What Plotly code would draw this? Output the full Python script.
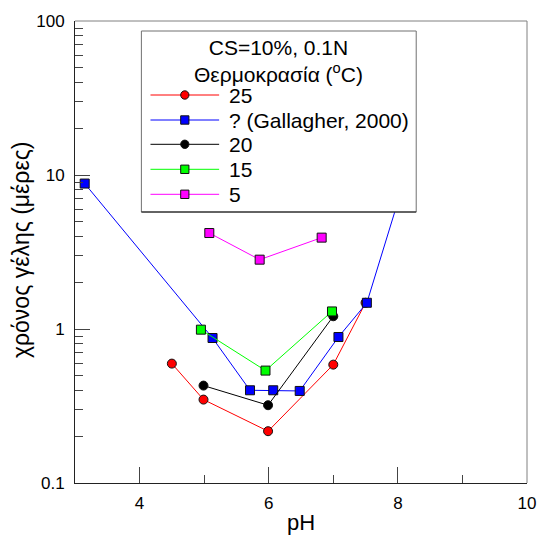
import plotly.graph_objects as go

# ---------------- data ----------------
ph_25 = [4.50, 4.99, 5.99, 7.00, 7.50]
t_25 = [0.596, 0.348, 0.217, 0.587, 1.48]

ph_gal = [3.15, 5.13, 5.71, 6.07, 6.48, 7.08, 7.52, 8.00]
t_gal = [8.8, 0.874, 0.40, 0.40, 0.396, 0.887, 1.48, 6.7]

ph_20 = [4.99, 5.99, 7.00]
t_20 = [0.429, 0.320, 1.21]

ph_15 = [4.95, 5.95, 6.98]
t_15 = [0.99, 0.537, 1.30]

ph_5 = [5.08, 5.86, 6.82]
t_5 = [4.2, 2.82, 3.92]

series_names = ["25", "? (Gallagher, 2000)", "20", "15", "5"]
series_colors = ["#FF0000", "#0000FF", "#000000", "#00FF00", "#FF00FF"]
series_symbols = ["circle", "square", "circle", "square", "square"]

x_ticks = [4, 6, 8, 10]
x_minor = [5, 7, 9]
y_ticks = [0.1, 1, 10, 100]
y_ticktext = ["0.1", "1", "10", "100"]
y_minor = [m * d for d in (0.1, 1, 10) for m in range(2, 10)]

legend_title = "CS=10%, 0.1N<br>Θερμοκρασία (<sup>o</sup>C)"
x_title = "pH"
y_title = "χρόνος γέλης (μέρες)"

FONT = "Liberation Sans, Arial, sans-serif"

# ---------------- figure ----------------
fig = go.Figure()
xs = [ph_25, ph_gal, ph_20, ph_15, ph_5]
ys = [t_25, t_gal, t_20, t_15, t_5]
for x, y, name, c, s in zip(xs, ys, series_names, series_colors, series_symbols):
    fig.add_trace(go.Scatter(
        x=x, y=y, mode="lines+markers", name=name,
        line=dict(color=c, width=1),
        marker=dict(symbol=s, size=9, color=c, line=dict(color="#111", width=1)),
        showlegend=False, cliponaxis=False,
    ))

L, R, T, B = 75, 11, 21, 52
W, H = 547, 535
PW, PH = W - L - R, H - T - B


def px(x):
    return (x - L) / PW


def py(y):
    return (H - B - y) / PH


shapes = []
# top/right frame
shapes.append(dict(type="line", xref="paper", yref="paper", x0=0, x1=1, y0=1, y1=1,
                   line=dict(color="#808080", width=1), layer="above"))
shapes.append(dict(type="line", xref="paper", yref="paper", x0=1, x1=1, y0=0, y1=1,
                   line=dict(color="#808080", width=1), layer="above"))

# legend box
lx0, lx1, ly0, ly1 = 142.7, 423, 31, 212
shapes.append(dict(type="rect", xref="paper", yref="paper",
                   x0=px(lx0), x1=px(lx1), y0=py(ly1), y1=py(ly0),
                   fillcolor="white", line=dict(color="#707070", width=1), layer="above"))
shapes.append(dict(type="line", xref="paper", yref="paper",
                   x0=px(lx0), x1=px(lx1), y0=py(ly1), y1=py(ly1),
                   line=dict(color="#111", width=1), layer="above"))

annotations = []
annotations.append(dict(xref="paper", yref="paper", x=px(283), y=py(61), text=legend_title,
                        showarrow=False, xanchor="center", yanchor="middle",
                        font=dict(family=FONT, size=21, color="black")))
entry_y = [95, 120, 144.3, 169.3, 194.3]
for yy, name, c, s in zip(entry_y, series_names, series_colors, series_symbols):
    shapes.append(dict(type="line", xref="paper", yref="paper",
                       x0=px(152), x1=px(222), y0=py(yy), y1=py(yy),
                       line=dict(color=c, width=1), layer="above"))
    r = 4.2
    shapes.append(dict(type="circle" if s == "circle" else "rect", xref="paper", yref="paper",
                       x0=px(187 - r), x1=px(187 + r), y0=py(yy + r), y1=py(yy - r),
                       fillcolor=c, line=dict(color="#111", width=1), layer="above"))
    annotations.append(dict(xref="paper", yref="paper", x=px(230), y=py(yy), text=name,
                            showarrow=False, xanchor="left", yanchor="middle",
                            font=dict(family=FONT, size=21, color="black")))

annotations.append(dict(xref="paper", yref="paper", x=px(305), y=py(522), text=x_title,
                        showarrow=False, xanchor="center", yanchor="middle",
                        font=dict(family=FONT, size=22, color="black")))
annotations.append(dict(xref="paper", yref="paper", x=px(20), y=py(250), text=y_title,
                        textangle=-90, showarrow=False, xanchor="center", yanchor="middle",
                        font=dict(family=FONT, size=23, color="black")))

fig.update_layout(
    width=W, height=H,
    margin=dict(l=L, r=R, t=T, b=B, pad=0),
    paper_bgcolor="white", plot_bgcolor="white",
    font=dict(family=FONT, size=17, color="black"),
    shapes=shapes, annotations=annotations,
    showlegend=False,
)
fig.update_xaxes(
    range=[3, 10], tickmode="array", tickvals=x_ticks, ticktext=[str(v) for v in x_ticks],
    ticks="inside", ticklen=16, tickwidth=1, tickcolor="#444",
    minor=dict(tickmode="array", tickvals=x_minor, ticks="inside", ticklen=8, tickwidth=1, tickcolor="#444"),
    showline=True, linecolor="#222", linewidth=1, showgrid=False, zeroline=False,
    tickfont=dict(family=FONT, size=17, color="black"), ticklabelstandoff=5,
)
fig.update_yaxes(
    type="log", range=[-1, 2], tickmode="array", tickvals=y_ticks, ticktext=y_ticktext,
    ticks="inside", ticklen=15, tickwidth=1, tickcolor="#444",
    minor=dict(tickmode="array", tickvals=y_minor, ticks="inside", ticklen=8, tickwidth=1, tickcolor="#444"),
    showline=True, linecolor="#222", linewidth=1, showgrid=False, zeroline=False,
    tickfont=dict(family=FONT, size=17, color="black"), ticklabelstandoff=6,
)

fig.write_html("out.html", config={"displayModeBar": False},
               post_script="document.body.style.margin='0px';")
